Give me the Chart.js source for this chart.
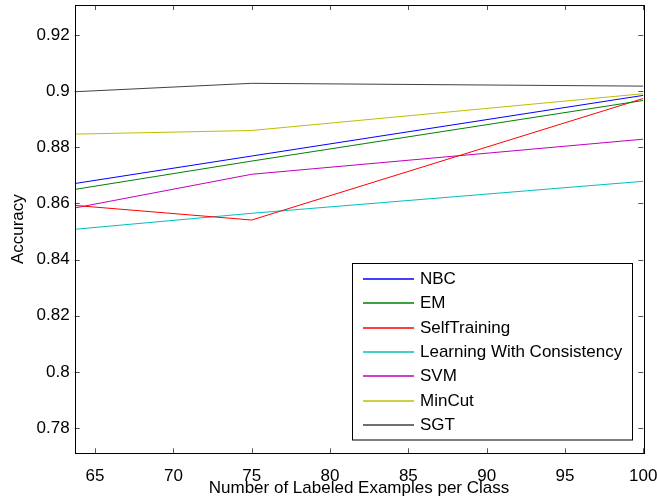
<!DOCTYPE html>
<html>
<head>
<meta charset="utf-8">
<script src="https://cdn.jsdelivr.net/npm/chart.js@4.4.0/dist/chart.umd.min.js"></script>
<style>
html,body{margin:0;padding:0;background:#fff;}
#wrap{width:657px;height:499px;}
</style>
</head>
<body>
<div id="wrap"><canvas id="c" width="657" height="499"></canvas></div>
<script>
const xValues = [63.7, 75, 100];
const xTicks = [65, 70, 75, 80, 85, 90, 95, 100];
const yTicks = [0.78, 0.80, 0.82, 0.84, 0.86, 0.88, 0.90, 0.92];
const seriesNames = ["NBC", "EM", "SelfTraining", "Learning With Consistency", "SVM", "MinCut", "SGT"];
const nbc = [0.8671, 0.8769, 0.8985];
const em = [0.8650, 0.8751, 0.8967];
const selfTraining = [0.8593, 0.8541, 0.8974];
const lwc = [0.8508, 0.8565, 0.8679];
const svm = [0.8584, 0.8704, 0.8829];
const minCut = [0.8847, 0.8860, 0.8991];
const sgt = [0.8998, 0.9028, 0.9018];
const seriesValues = [nbc, em, selfTraining, lwc, svm, minCut, sgt];
const seriesColors = ["#0000ff", "#008000", "#ff0000", "#00bfbf", "#bf00bf", "#bfbf00", "#404040"];

const FONT = "'Liberation Sans', Arial, Helvetica, sans-serif";

const datasets = seriesNames.map((name, i) => ({
  label: name,
  data: xValues.map((x, j) => ({x: x, y: seriesValues[i][j]})),
  borderColor: seriesColors[i],
  backgroundColor: seriesColors[i],
  borderWidth: 1,
  pointRadius: 0,
  fill: false,
  tension: 0
}));

const framePlugin = {
  id: 'frame',
  afterDraw(chart) {
    const ctx = chart.ctx;
    const a = chart.chartArea;
    const xs = chart.scales.x, ys = chart.scales.y;
    ctx.save();
    // ticks inward
    ctx.strokeStyle = '#555';
    ctx.lineWidth = 1;
    const tl = 5;
    ctx.beginPath();
    xs.ticks.forEach(t => {
      const px = Math.round(xs.getPixelForValue(t.value)) + 0.5;
      ctx.moveTo(px, a.bottom); ctx.lineTo(px, a.bottom - tl);
      ctx.moveTo(px, a.top); ctx.lineTo(px, a.top + tl);
    });
    ys.ticks.forEach(t => {
      const py = Math.round(ys.getPixelForValue(t.value)) + 0.5;
      ctx.moveTo(a.left, py); ctx.lineTo(a.left + tl, py);
      ctx.moveTo(a.right, py); ctx.lineTo(a.right - tl, py);
    });
    ctx.stroke();
    // axes box
    ctx.strokeStyle = '#000';
    ctx.strokeRect(Math.round(a.left) + 0.5, Math.round(a.top) + 0.5,
                   Math.round(a.right - a.left), Math.round(a.bottom - a.top));
    // legend
    const lx = 352.5, ly = 263.5, lw = 280, lh = 176.5;
    ctx.fillStyle = '#fff';
    ctx.fillRect(lx, ly, lw, lh);
    ctx.strokeStyle = '#000';
    ctx.strokeRect(lx, ly, lw, lh);
    ctx.font = '17px ' + FONT;
    ctx.textBaseline = 'middle';
    ctx.textAlign = 'left';
    chart.data.datasets.forEach((ds, i) => {
      const y = Math.round(279 + i * 24.35);
      ctx.strokeStyle = seriesColors[i];
      ctx.lineWidth = 1.5;
      ctx.beginPath();
      ctx.moveTo(363, y); ctx.lineTo(414, y);
      ctx.stroke();
      ctx.fillStyle = '#000';
      ctx.fillText(ds.label, 420, y);
    });
    ctx.restore();
  }
};

new Chart(document.getElementById('c'), {
  type: 'line',
  data: { datasets: datasets },
  options: {
    responsive: false,
    animation: false,
    layout: { padding: { top: 5, right: 13.7, left: 0, bottom: 0 } },
    plugins: { legend: { display: false }, tooltip: { enabled: false } },
    scales: {
      x: {
        type: 'linear',
        min: 63.7,
        max: 100,
        afterBuildTicks(scale) { scale.ticks = xTicks.map(v => ({value: v})); },
        afterFit(scale) { scale.height = 45.7; scale.paddingLeft = 0; scale.paddingRight = 0; },
        grid: { display: false, drawTicks: false },
        border: { display: false },
        ticks: {
          autoSkip: false, maxRotation: 0, padding: 13, color: '#000',
          font: { family: FONT, size: 17 },
          callback: v => String(v)
        },
        title: {
          display: true, text: 'Number of Labeled Examples per Class', color: '#000',
          font: { family: FONT, size: 17 }, padding: { top: 0, bottom: 0 }
        }
      },
      y: {
        type: 'linear',
        min: 0.771,
        max: 0.9307,
        afterBuildTicks(scale) { scale.ticks = yTicks.map(v => ({value: v})); },
        afterFit(scale) { scale.width = 74.7; scale.paddingTop = 0; scale.paddingBottom = 0; },
        grid: { display: false, drawTicks: false },
        border: { display: false },
        ticks: {
          autoSkip: false, padding: 5, color: '#000',
          font: { family: FONT, size: 17 },
          callback: v => String(Number(v.toFixed(2)))
        },
        title: {
          display: true, text: 'Accuracy', color: '#000',
          font: { family: FONT, size: 17 }, padding: { top: 8, bottom: 0 }
        }
      }
    }
  },
  plugins: [framePlugin]
});
</script>
</body>
</html>
